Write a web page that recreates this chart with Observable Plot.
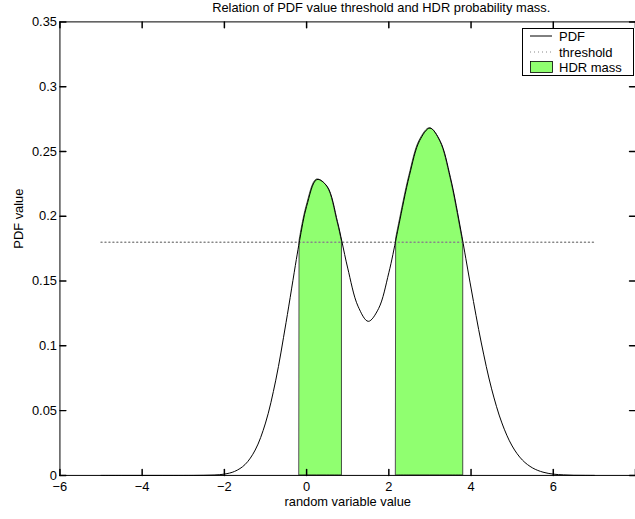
<!DOCTYPE html>
<html><head><meta charset="utf-8">
<script src="https://cdn.jsdelivr.net/npm/d3@7"></script>
<script src="https://cdn.jsdelivr.net/npm/@observablehq/plot@0.6"></script>
<style>
html,body{margin:0;padding:0;background:#fff;}
#wrap{position:relative;width:635px;height:519px;overflow:hidden;font-family:"Liberation Sans",Arial,Helvetica,sans-serif;}
#legend{position:absolute;left:522px;top:28px;}
</style>
</head><body>
<div id="wrap"><div id="chart"></div>
<svg id="legend" width="113" height="49" font-family="Liberation Sans, Arial, sans-serif" font-size="13">
  <rect x="0.5" y="0.5" width="111" height="47" fill="white" stroke="black"></rect>
  <line x1="8" x2="30" y1="8" y2="8" stroke="black"></line>
  <line x1="8" x2="30" y1="24" y2="24" stroke="#888" stroke-dasharray="1,3"></line>
  <rect x="8.5" y="33.5" width="22" height="11" fill="#90ff70" stroke="black" stroke-width="0.8"></rect>
  <text id="lg0" x="37" y="8" dominant-baseline="central"></text>
  <text id="lg1" x="37" y="24" dominant-baseline="central"></text>
  <text id="lg2" x="37" y="39" dominant-baseline="central"></text>
</svg>
</div>
<script>
// ---- data ----
const titleText = "Relation of PDF value threshold and HDR probability mass.";
const xLabel = "random variable value";
const yLabel = "PDF value";
const legendLabels = ["PDF", "threshold", "HDR mass"];

const pdfX = [-5,-4.5,-4,-3.5,-3,-2.75,-2.5,-2.25,-2,-1.75,-1.5,-1.25,-1,-0.75,-0.5,-0.25,-0.17,0,0.25,0.5,0.75,0.86,1,1.25,1.5,1.75,2,2.18,2.25,2.5,2.75,3,3.25,3.5,3.75,3.81,4,4.25,4.5,4.75,5,5.25,5.5,5.75,6,6.25,6.5,6.75,7];
const pdfY = [0,0,0,0,0,0.00002,0.0001,0.0003,0.001,0.0031,0.0083,0.0196,0.0404,0.0735,0.118,0.1666,0.1813,0.2076,0.2283,0.223,0.1959,0.1803,0.16,0.1306,0.1189,0.1287,0.1564,0.1831,0.1941,0.2313,0.2584,0.268,0.2579,0.2297,0.1894,0.1788,0.1446,0.1022,0.0668,0.0405,0.0227,0.0118,0.0057,0.0025,0.001,0.0004,0.0001,0.00005,0.00001];

const threshold = 0.18;
const thresholdX = [-5, 7];
const hdrFrom = [-0.17, 2.18];
const hdrTo = [0.86, 3.81];

const xTicks = [-6,-4,-2,0,2,4,6,8];
const xTickLabels = ["\u22126","\u22124","\u22122","0","2","4","6"];
const yTicks = [0,0.05,0.1,0.15,0.2,0.25,0.3,0.35];
const yTickLabels = ["0","0.05","0.1","0.15","0.2","0.25","0.3","0.35"];

const green = "#90ff70";

// ---- build tables ----
const pdfRows = pdfX.map((x, i) => ({x, y: pdfY[i]}));
const hdrRows = [];
hdrFrom.forEach((a, s) => {
  pdfRows.forEach(r => { if (r.x >= a - 1e-9 && r.x <= hdrTo[s] + 1e-9) hdrRows.push({x: r.x, y: r.y, seg: s}); });
});
const thrRows = thresholdX.map(x => ({x, y: threshold}));
const labeledXTicks = xTicks.slice(0, xTickLabels.length);

const tickShape = {draw(context, l) { context.moveTo(0, 0); context.lineTo(0, -l); }};
const font = "Liberation Sans, Arial, sans-serif";

const chart = Plot.plot({
  width: 641, height: 519,
  marginLeft: 60, marginRight: 0, marginTop: 21.6, marginBottom: 39.6,
  x: {domain: [-6, 8]},
  y: {domain: [0, 0.35]},
  style: {fontFamily: font, fontSize: "13px", color: "black", background: "white"},
  marks: [
    Plot.areaY(hdrRows, {x: "x", y: "y", z: "seg", fill: green, stroke: "#222", strokeWidth: 0.8, curve: "catmull-rom"}),
    Plot.line(thrRows, {x: "x", y: "y", stroke: "#888", strokeDasharray: "1,3"}),
    Plot.line(pdfRows, {x: "x", y: "y", stroke: "black", strokeWidth: 1, curve: "catmull-rom"}),
    Plot.frame({stroke: "black"}),
    Plot.vector(xTicks, {x: d => d, frameAnchor: "bottom", length: 6, rotate: 0, anchor: "start", shape: tickShape, stroke: "black"}),
    Plot.vector(xTicks, {x: d => d, frameAnchor: "top", length: 6, rotate: 180, anchor: "start", shape: tickShape, stroke: "black"}),
    Plot.vector(yTicks, {y: d => d, frameAnchor: "left", length: 6, rotate: 90, anchor: "start", shape: tickShape, stroke: "black"}),
    Plot.vector(yTicks, {y: d => d, frameAnchor: "right", length: 6, rotate: -90, anchor: "start", shape: tickShape, stroke: "black"}),
    Plot.axisX({ticks: labeledXTicks, tickSize: 0, tickPadding: 7, tickFormat: d => xTickLabels[xTicks.indexOf(d)], label: null, fontSize: 13}),
    Plot.axisY({ticks: yTicks, tickSize: 0, tickPadding: 3, tickFormat: d => yTickLabels[yTicks.indexOf(d)], label: null, fontSize: 13}),
    Plot.text([titleText], {frameAnchor: "top", lineAnchor: "middle", dx: 33.8, dy: -14.3, fontSize: 13, fill: "black"}),
    Plot.text([xLabel], {frameAnchor: "bottom", lineAnchor: "middle", dy: 26.5, fontSize: 13, fill: "black"}),
    Plot.text([yLabel], {frameAnchor: "left", lineAnchor: "middle", dx: -41.7, rotate: -90, fontSize: 13, fill: "black"})
  ]
});
document.getElementById("chart").appendChild(chart);
legendLabels.forEach((t, i) => { document.getElementById("lg" + i).textContent = t; });
</script>
</body></html>
